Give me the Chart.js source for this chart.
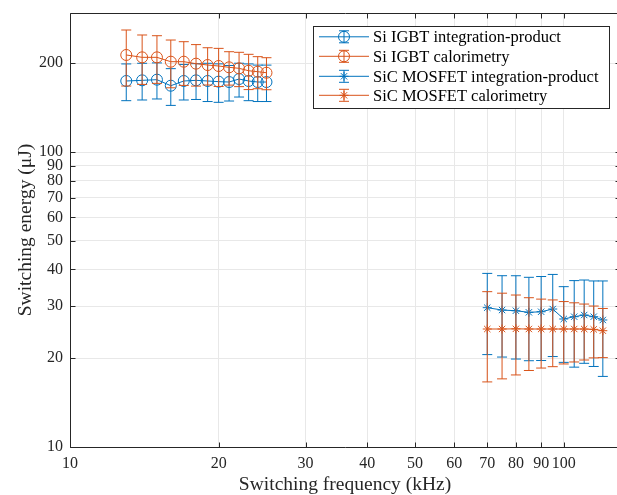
<!DOCTYPE html>
<html><head><meta charset="utf-8">
<script src="https://cdn.jsdelivr.net/npm/chart.js@4.4.0/dist/chart.umd.min.js"></script>
<style>
html,body{margin:0;padding:0;overflow:hidden;background:#fff;width:617px;height:495px}
#wrap{position:relative;width:630px;height:495px}
</style></head><body><div id="wrap"><canvas id="c" width="630" height="495"></canvas></div>
<script>
// ---- data ----
const igbtFreq = [13,14,15,16,17,18,19,20,21,22,23,24,25];
const igbtIntMean = [174.1,175.0,175.9,167.8,174.1,175.0,174.1,173.2,172.7,176.8,174.1,172.7,172.7];
const igbtIntErr  = [24.8,24.9,24.6,23.9,24.0,24.3,25.8,25.8,23.8,23.2,24.8,24.4,24.4];
const igbtCalMean = [213.3,209.4,209.4,202.4,202.4,199.3,197.2,195.7,193.7,192.2,188.6,187.2,185.7];
const igbtCalErr  = [45.9,39.9,38.5,37.3,34.2,32.0,28.5,28.9,25.1,25.6,25.8,23.3,23.1];
const sicFreq = [70,75,80,85,90,95,100,105,110,115,120];
const sicIntMean = [29.67,29.13,28.97,28.61,28.74,29.36,27.16,27.65,28.02,27.65,26.95];
const sicIntErr  = [9.1,8.95,9.1,9.0,9.1,9.1,7.8,9.0,8.8,8.9,9.6];
const sicCalMean = [25.12,25.12,25.15,25.12,25.12,25.12,25.12,25.12,25.12,25.05,24.79];
const sicCalErr  = [8.5,8.1,7.6,6.95,6.6,6.4,6.0,5.7,5.4,5.0,4.7];
const xTicks = [10,20,30,40,50,60,70,80,90,100];
const yTicks = [10,20,30,40,50,60,70,80,90,100,200];
const seriesLabels = ['Si IGBT integration-product','Si IGBT calorimetry','SiC MOSFET integration-product','SiC MOSFET calorimetry'];

const BLUE = '#0072BD', ORANGE = '#D95319', AX = '#262626';
const FONT = "'Liberation Serif', serif";

function pts(xs, ys){ return xs.map((x,i)=>({x:x, y:ys[i]})); }

const errorBars = {
  id:'errorBars',
  beforeDatasetDraw(chart, args){
    const ds = chart.data.datasets[args.index];
    const xs = chart.scales.x, ys = chart.scales.y, ctx = chart.ctx;
    ctx.save();
    ctx.strokeStyle = ds.borderColor; ctx.lineWidth = 1;
    ds.data.forEach((p,i)=>{
      const e = ds.errors[i];
      const px = xs.getPixelForValue(p.x);
      const y1 = ys.getPixelForValue(p.y - e), y2 = ys.getPixelForValue(p.y + e);
      ctx.beginPath();
      ctx.moveTo(px,y1); ctx.lineTo(px,y2);
      ctx.moveTo(px-5,y1); ctx.lineTo(px+5,y1);
      ctx.moveTo(px-5,y2); ctx.lineTo(px+5,y2);
      ctx.stroke();
    });
    ctx.restore();
  }
};

const boxTicks = {
  id:'boxTicks',
  afterDatasetsDraw(chart){
    const {ctx, chartArea:a} = chart;
    const xs = chart.scales.x, ys = chart.scales.y;
    ctx.save();
    ctx.strokeStyle = AX; ctx.lineWidth = 1;
    ctx.beginPath();
    const L = Math.round(a.left)+0.5, R = Math.round(a.right)+0.5, T = Math.round(a.top)+0.5, B = Math.round(a.bottom)+0.5;
    ctx.rect(L, T, R-L, B-T);
    const tl = 5;
    xTicks.forEach(v=>{
      const p = Math.round(xs.getPixelForValue(v))+0.5;
      ctx.moveTo(p,B); ctx.lineTo(p,B-tl);
      ctx.moveTo(p,T); ctx.lineTo(p,T+tl);
    });
    yTicks.forEach(v=>{
      const p = Math.round(ys.getPixelForValue(v))+0.5;
      ctx.moveTo(L,p); ctx.lineTo(L+tl,p);
      ctx.moveTo(R,p); ctx.lineTo(R-tl,p);
    });
    ctx.stroke();
    ctx.restore();
  }
};

const boxLegend = {
  id:'boxLegend',
  afterDraw(chart){
    const ctx = chart.ctx;
    const bx = 313, by = 26, bw = 296, bh = 82;
    ctx.save();
    ctx.fillStyle = '#fff';
    ctx.fillRect(bx, by, bw, bh);
    ctx.strokeStyle = AX; ctx.lineWidth = 1;
    ctx.strokeRect(bx+0.5, by+0.5, bw, bh);
    const rows = [36.8, 56.3, 76.3, 95.3];
    chart.data.datasets.forEach((ds,i)=>{
      const y = rows[i];
      ctx.strokeStyle = ds.borderColor; ctx.lineWidth = 1;
      ctx.beginPath();
      ctx.moveTo(319, y); ctx.lineTo(369, y);
      ctx.moveTo(344, y-6); ctx.lineTo(344, y+6);
      ctx.moveTo(339, y-6); ctx.lineTo(349, y-6);
      ctx.moveTo(339, y+6); ctx.lineTo(349, y+6);
      ctx.stroke();
      ctx.fillStyle = 'rgba(0,0,0,0)';
      Chart.helpers.drawPoint(ctx, {pointStyle: ds.pointStyle, radius: ds.pointRadius, borderWidth: 1}, 344, y);
      ctx.fillStyle = '#000';
      ctx.font = "16.5px " + FONT;
      ctx.textBaseline = 'middle'; ctx.textAlign = 'left';
      ctx.fillText(ds.label, 373, y+1);
    });
    ctx.restore();
  }
};

function mkDs(label, xs, ys, errs, color, style, r, order){
  return {label, data: pts(xs, ys), errors: errs, borderColor: color, backgroundColor: color,
    pointBorderColor: color, pointBackgroundColor: 'rgba(0,0,0,0)', pointStyle: style,
    pointRadius: r, pointBorderWidth: 1, borderWidth: 1, fill: false, tension: 0, order};
}

new Chart(document.getElementById('c'), {
  type: 'line',
  data: { datasets: [
    mkDs(seriesLabels[0], igbtFreq, igbtIntMean, igbtIntErr, BLUE, 'circle', 5.5, 4),
    mkDs(seriesLabels[1], igbtFreq, igbtCalMean, igbtCalErr, ORANGE, 'circle', 5.5, 3),
    mkDs(seriesLabels[2], sicFreq, sicIntMean, sicIntErr, BLUE, 'star', 4.5, 2),
    mkDs(seriesLabels[3], sicFreq, sicCalMean, sicCalErr, ORANGE, 'star', 4.5, 1)
  ]},
  options: {
    responsive: false, animation: false, devicePixelRatio: 1,
    layout: {padding: {left: 0, top: 13, right: 10, bottom: 0}},
    plugins: {legend: {display: false}, tooltip: {enabled: false}},
    scales: {
      x: {type: 'logarithmic', min: 10, max: 130,
        afterBuildTicks: s => { s.ticks = xTicks.map(v => ({value: v})); },
        afterFit: s => { s.height = 48; s.paddingLeft = 0; s.paddingRight = 0; },
        ticks: {callback: v => String(v), font: {family: FONT, size: 16}, color: AX, padding: 7, maxRotation: 0, autoSkip: false},
        grid: {color: '#e8e8e8', drawTicks: false}, border: {display: false},
        title: {display: true, text: 'Switching frequency (kHz)', font: {family: FONT, size: 19.5, lineHeight: 1}, color: AX, padding: 0}
      },
      y: {type: 'logarithmic', min: 10, max: 296,
        afterBuildTicks: s => { s.ticks = yTicks.map(v => ({value: v})); },
        afterFit: s => { s.width = 70; s.paddingTop = 0; s.paddingBottom = 0; },
        ticks: {callback: v => String(v), font: {family: FONT, size: 16}, color: AX, padding: 7, autoSkip: false},
        grid: {color: '#e8e8e8', drawTicks: false}, border: {display: false},
        title: {display: true, text: 'Switching energy (μJ)', font: {family: FONT, size: 19.5, lineHeight: 1}, color: AX, padding: {top: 16, bottom: 0}}
      }
    }
  },
  plugins: [errorBars, boxTicks, boxLegend]
});
</script></body></html>
